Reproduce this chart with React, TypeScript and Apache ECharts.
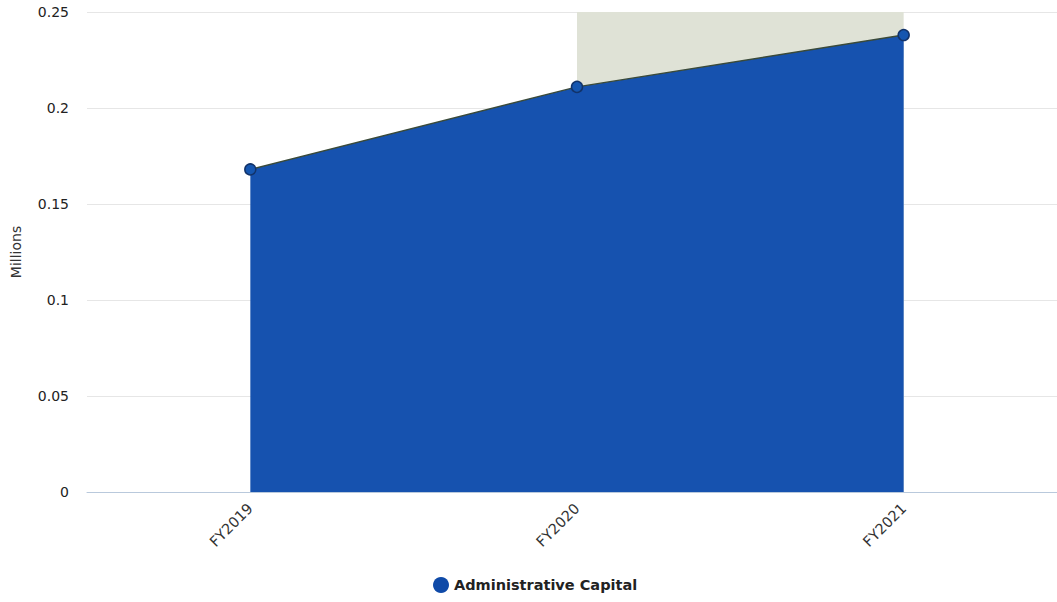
import React, { useEffect, useRef } from "react";
import * as echarts from "echarts";

const categories = ["FY2019", "FY2020", "FY2021"];
const adminCapital = [0.168, 0.211, 0.238];
const highlightBand = [null, 0.25, 0.25];
const yTicks = [0, 0.05, 0.1, 0.15, 0.2, 0.25];

export default function App() {
  const ref = useRef<HTMLDivElement>(null);
  useEffect(() => {
    if (!ref.current) return;
    const chart = echarts.init(ref.current, undefined, { renderer: "svg" });
    chart.setOption({
      animation: false,
      backgroundColor: "#ffffff",
      grid: { left: 87, top: 12, width: 980, height: 480 },
      legend: {
        bottom: 4,
        left: 428,
        icon: "circle",
        itemWidth: 16,
        itemHeight: 16,
        itemGap: 6,
        itemStyle: { borderWidth: 0, color: "#0f4aa8" },
        data: ["Administrative Capital"],
        textStyle: { fontFamily: "DejaVu Sans", fontWeight: "bold", fontSize: 14.5, color: "#222" },
      },
      xAxis: {
        type: "category",
        data: categories,
        boundaryGap: true,
        axisLine: { show: true, lineStyle: { color: "#b9c9dc", width: 1 } },
        axisTick: { show: false },
        axisLabel: { rotate: 45, fontFamily: "DejaVu Sans", fontSize: 14.5, color: "#333", margin: 14 },
        splitLine: { show: false },
      },
      yAxis: {
        type: "value",
        min: yTicks[0],
        max: yTicks[yTicks.length - 1],
        interval: 0.05,
        name: "Millions",
        nameLocation: "middle",
        nameGap: 64,
        nameTextStyle: { fontFamily: "DejaVu Sans", fontSize: 14, color: "#333" },
        axisLine: { show: false },
        axisTick: { show: false },
        axisLabel: { fontFamily: "DejaVu Sans", fontSize: 14, color: "#222", margin: 18 },
        splitLine: { lineStyle: { color: "#e6e6e6", width: 1 } },
      },
      series: [
        {
          name: "band",
          type: "line",
          data: highlightBand,
          z: 1,
          symbol: "none",
          lineStyle: { width: 0 },
          areaStyle: { color: "#dfe2d6", opacity: 1 },
          silent: true,
        },
        {
          name: "Administrative Capital",
          type: "line",
          data: adminCapital,
          z: 3,
          symbol: "circle",
          symbolSize: 11,
          itemStyle: { color: "#1556b0", borderColor: "#12336a", borderWidth: 1.5 },
          lineStyle: { color: "#3a4a3a", width: 1.5 },
          areaStyle: { color: "#1652af", opacity: 1 },
        },
      ],
    });
    return () => chart.dispose();
  }, []);
  return (
    <div style={{ position: "absolute", left: 0, top: 0, width: 1057, height: 602, overflow: "hidden" }}>
      <div ref={ref} style={{ width: 1080, height: 602 }} />
    </div>
  );
}
